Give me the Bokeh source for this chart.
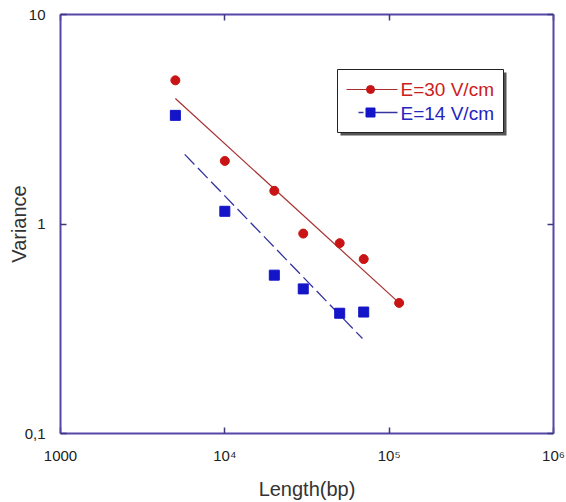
import math
from bokeh.plotting import figure
from bokeh.models import LogAxis, FixedTicker, CustomJSTickFormatter, Range1d
from bokeh.core.properties import value
from bokeh.embed import file_html
from bokeh.resources import INLINE

# ---- data ----
length_30 = [5000, 10000, 20000, 30000, 50000, 70000, 115000]
variance_30 = [4.85, 2.00, 1.44, 0.90, 0.81, 0.68, 0.42]
length_14 = [5000, 10000, 20000, 30000, 50000, 70000]
variance_14 = [3.30, 1.15, 0.57, 0.49, 0.375, 0.38]
fit_30_x = [5000, 115000]
fit_30_y = [3.97, 0.42]
fit_14_x = [5700, 68800]
fit_14_y = [2.15, 0.284]

x_ticks = [1000, 10000, 100000, 1000000]
x_tick_labels = ["1000", "10\u2074", "10\u2075", "10\u2076"]
y_ticks = [0.1, 1, 10]
y_tick_labels = ["0,1", "1", "10"]
series_labels = ["E=30 V/cm", "E=14 V/cm"]

# ---- style ----
AXIS_COLOR = "#5446a8"
TICK_COLOR = "#3a3a7a"
RED_PT = "#c81414"
RED_LINE = "#a83030"
BLUE_PT = "#1414c8"
BLUE_LINE = "#3434a0"
FONT = "Liberation Sans"

X0, X1 = 1000, 1e6
Y0, Y1 = 0.1, 10

p = figure(width=566, height=502, x_axis_type="log", y_axis_type="log",
           x_range=Range1d(X0, X1), y_range=Range1d(Y0, Y1),
           output_backend="svg", toolbar_location=None,
           min_border_left=60, min_border_right=13, min_border_top=14,
           min_border_bottom=69)
p.outline_line_color = None
p.xgrid.visible = False
p.ygrid.visible = False
p.background_fill_color = "white"
p.border_fill_color = "white"


def fmt(vals, labels):
    return CustomJSTickFormatter(args=dict(vals=vals, labels=labels), code="""
for (let i = 0; i < vals.length; i++) {
  if (Math.abs(Math.log10(tick) - Math.log10(vals[i])) < 1e-6) return labels[i];
}
return " ";
""")


def style_axis(ax, ticks, show_labels):
    ax.ticker = FixedTicker(ticks=ticks, minor_ticks=[])
    ax.axis_line_color = AXIS_COLOR
    ax.axis_line_width = 2
    ax.major_tick_in = 6
    ax.major_tick_out = 0
    ax.major_tick_line_color = TICK_COLOR
    ax.major_tick_line_width = 1.5
    ax.minor_tick_line_color = None
    if not show_labels:
        ax.formatter = fmt([], [])
        ax.major_label_text_font_size = "1px"
        ax.major_label_text_color = None
        ax.major_label_standoff = 0


xa = p.xaxis[0]
style_axis(xa, x_ticks, True)
xa.formatter = fmt(x_ticks, x_tick_labels)
xa.major_label_text_font = FONT
xa.major_label_text_font_size = "15px"
xa.major_label_text_color = "#222222"
xa.major_label_standoff = 13
xa.axis_label = "Length(bp)"
xa.axis_label_text_font = FONT
xa.axis_label_text_font_size = "20px"
xa.axis_label_text_font_style = "normal"
xa.axis_label_text_color = "#333333"
xa.axis_label_standoff = 11

ya = p.yaxis[0]
style_axis(ya, y_ticks, True)
ya.formatter = fmt(y_ticks, y_tick_labels)
ya.major_label_text_font = FONT
ya.major_label_text_font_size = "15px"
ya.major_label_text_color = "#222222"
ya.major_label_standoff = 15
ya.axis_label = "Variance"
ya.axis_label_text_font = FONT
ya.axis_label_text_font_size = "20px"
ya.axis_label_text_font_style = "normal"
ya.axis_label_text_color = "#333333"
ya.axis_label_standoff = -8

top = LogAxis()
style_axis(top, x_ticks, False)
p.add_layout(top, "above")
right = LogAxis()
style_axis(right, y_ticks, False)
p.add_layout(right, "right")

# ---- data marks ----
p.line(fit_30_x, fit_30_y, line_color=RED_LINE, line_width=1.2)
p.line(fit_14_x, fit_14_y, line_color=BLUE_LINE, line_width=1.3, line_dash="14 5")
p.scatter(length_30, variance_30, marker="circle", size=9, fill_color=RED_PT,
          line_color=RED_PT)
p.scatter(length_14, variance_14, marker="square", size=10, fill_color=BLUE_PT,
          line_color=BLUE_PT)

# ---- legend (placed in pixel positions of the frame, converted to data) ----
FX0, FX1, FY0, FY1 = 60.0, 553.0, 14.0, 433.0  # frame edges on the page


def lx(px):
    return 10 ** (math.log10(X0) + (math.log10(X1) - math.log10(X0)) * (px - FX0) / (FX1 - FX0))


def ly(py):
    return 10 ** (math.log10(Y1) - (math.log10(Y1) - math.log10(Y0)) * (py - FY0) / (FY1 - FY0))


p.quad(left=[lx(340)], right=[lx(506)], top=[ly(72)], bottom=[ly(135)],
       fill_color="#555555", line_color=None)
p.quad(left=[lx(337)], right=[lx(503)], top=[ly(69)], bottom=[ly(132)],
       fill_color="white", line_color="#222222", line_width=1)

p.line([lx(346), lx(397)], [ly(89), ly(89)], line_color=RED_LINE, line_width=1.2)
p.scatter([lx(370)], [ly(89)], marker="circle", size=8, fill_color=RED_PT, line_color=RED_PT)
p.line([lx(358), lx(397)], [ly(112), ly(112)], line_color=BLUE_LINE, line_width=1.3,
       line_dash="5 6 30")
p.scatter([lx(370)], [ly(112)], marker="square", size=9, fill_color=BLUE_PT, line_color=BLUE_PT)

p.text([lx(400)], [ly(89)], text=[series_labels[0]], text_color="#cc2020",
       text_font=value(FONT), text_font_size="19px", text_baseline="middle")
p.text([lx(400)], [ly(113)], text=[series_labels[1]], text_color="#2525c0",
       text_font=value(FONT), text_font_size="19px", text_baseline="middle")

open("out.html", "w").write(file_html(p, INLINE))
